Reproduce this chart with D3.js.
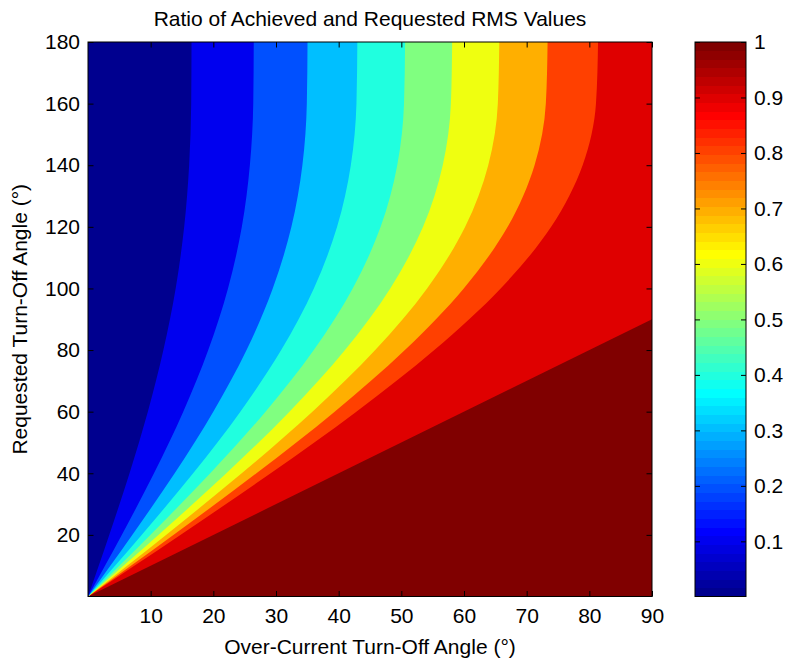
<!DOCTYPE html>
<html><head><meta charset="utf-8">
<script src="https://cdn.jsdelivr.net/npm/d3@7"></script>
<style>
body{margin:0;background:#fff}
text{font-family:"Liberation Sans",Arial,Helvetica,sans-serif;fill:#000}
</style></head>
<body><svg id="c" width="787" height="663"></svg>
<script>
// ---- data (x-position of each contour at the listed requested angles) ----
const yRows      = [0, 10,   20,    40,    60,    80,    100,   120,   140,   160,   180];
const contour01  = [0, 1.71, 3.39,  6.63,  9.55, 12.03, 13.99, 15.35, 16.14, 16.47, 16.52];
const contour02  = [0, 2.71, 5.39, 10.53, 15.20, 19.19, 22.34, 24.55, 25.83, 26.37, 26.45];
const contour03  = [0, 3.56, 7.06, 13.83, 19.99, 25.30, 29.48, 32.46, 34.21, 34.92, 35.03];
const contour04  = [0, 4.31, 8.56, 16.78, 24.31, 30.83, 36.04, 39.75, 41.94, 42.84, 42.98];
const contour05  = [0, 5.00, 9.94, 19.51, 28.33, 36.03, 42.24, 46.70, 49.35, 50.43, 50.60];
const contour06  = [0, 5.64, 11.23, 22.08, 32.15, 41.01, 48.23, 53.47, 56.61, 57.91, 58.11];
const contour07  = [0, 6.25, 12.45, 24.53, 35.81, 45.83, 54.11, 60.19, 63.87, 65.40, 65.63];
const contour08  = [0, 6.84, 13.62, 26.88, 39.36, 50.57, 59.96, 66.97, 71.26, 73.06, 73.34];
const contour09  = [0, 7.39, 14.74, 29.15, 42.82, 55.26, 65.85, 73.91, 78.93, 81.06, 81.39];
const levels     = [0.1, 0.2, 0.3, 0.4, 0.5, 0.6, 0.7, 0.8, 0.9];
// level 1.0 boundary (full-RMS region lies below it)
const unityX     = [0, 90, 90];
const unityY     = [0, 90, 180];
const dataMin    = 0.0006, dataMax = 1;

const xTicks = [10, 20, 30, 40, 50, 60, 70, 80, 90];
const yTicks = [20, 40, 60, 80, 100, 120, 140, 160, 180];
const cTicks = [0.1, 0.2, 0.3, 0.4, 0.5, 0.6, 0.7, 0.8, 0.9, 1];
const titleText = "Ratio of Achieved and Requested RMS Values";
const xLabelText = "Over-Current Turn-Off Angle (°)";
const yLabelText = "Requested Turn-Off Angle (°)";

const contours = [contour01, contour02, contour03, contour04, contour05, contour06, contour07, contour08, contour09];

// ---- jet(64) colormap ----
function jet(k){
  const u = j => (j < 1 || j > 47) ? 0 : (j <= 16 ? j/16 : (j <= 31 ? 1 : (48 - j)/16));
  return d3.rgb(Math.round(u(k-24)*255), Math.round(u(k-8)*255), Math.round(u(k+8)*255));
}
const nMap = 64;
const idxOf = v => Math.min(nMap, Math.max(1, Math.floor((v - dataMin)/(dataMax - dataMin)*nMap) + 1));

const svg = d3.select("#c");
const L = 88, R = 652, T = 42, B = 596.5;
const x = d3.scaleLinear().domain([0, 90]).range([L, R]);
const y = d3.scaleLinear().domain([0, 180]).range([B, T]);

svg.append("defs").append("clipPath").attr("id","clip")
  .append("rect").attr("x",L).attr("y",T).attr("width",R-L).attr("height",B-T);

const plot = svg.append("g").attr("clip-path","url(#clip)");
// region at value 1
plot.append("rect").attr("x",L).attr("y",T).attr("width",R-L).attr("height",B-T)
  .attr("fill", jet(idxOf(1)));

const corner = `L${x(0)},${y(180)}L${x(0)},${y(0)}Z`;
const lin = d3.line().x(d => x(d[0])).y(d => y(d[1]));
const smooth = d3.line().x(d => x(d[0])).y(d => y(d[1])).curve(d3.curveMonotoneY);

// region left of the 1.0 boundary gets the 0.9 band colour
plot.append("path")
  .attr("d", lin(unityX.map((v,i) => [v, unityY[i]])) + corner)
  .attr("fill", jet(idxOf(0.9)));

for (let k = contours.length - 1; k >= 0; k--) {
  const pts = contours[k].map((v,i) => [v, yRows[i]]);
  const col = k === 0 ? jet(1) : jet(idxOf(levels[k-1]));
  plot.append("path").attr("d", smooth(pts) + corner).attr("fill", col);
}

// frame
svg.append("rect").attr("x",L).attr("y",T).attr("width",R-L).attr("height",B-T)
  .attr("fill","none").attr("stroke","#000").attr("stroke-width",1);

const FS = 21;
function styleAxis(g){
  g.select(".domain").remove();
  g.selectAll(".tick line").attr("stroke","#000");
  g.selectAll(".tick text").attr("font-size",FS).attr("font-family",'"Liberation Sans",Arial,sans-serif').attr("fill","#000");
}
svg.append("g").attr("transform",`translate(0,${B})`)
  .call(d3.axisBottom(x).tickValues(xTicks).tickSizeInner(-5.5).tickSizeOuter(0).tickPadding(12).tickFormat(d3.format("d")))
  .call(styleAxis);
svg.append("g").attr("transform",`translate(0,${T})`)
  .call(d3.axisTop(x).tickValues(xTicks).tickSizeInner(-5.5).tickSizeOuter(0).tickFormat(""))
  .call(styleAxis);
svg.append("g").attr("transform",`translate(${L},0)`)
  .call(d3.axisLeft(y).tickValues(yTicks).tickSizeInner(-5.5).tickSizeOuter(0).tickPadding(8).tickFormat(d3.format("d")))
  .call(styleAxis);
svg.append("g").attr("transform",`translate(${R},0)`)
  .call(d3.axisRight(y).tickValues(yTicks).tickSizeInner(-5.5).tickSizeOuter(0).tickFormat(""))
  .call(styleAxis);

// titles
svg.append("text").attr("x",(L+R)/2).attr("y",26).attr("text-anchor","middle").attr("font-size",FS).text(titleText);
svg.append("text").attr("x",(L+R)/2).attr("y",654).attr("text-anchor","middle").attr("font-size",FS).text(xLabelText);
svg.append("text").attr("transform",`translate(27,${(T+B)/2}) rotate(-90)`).attr("text-anchor","middle").attr("font-size",FS).text(yLabelText);

// colorbar
const CL = 695, CR = 746;
const c = d3.scaleLinear().domain([dataMin, dataMax]).range([B, T]);
const cb = svg.append("g");
const step = (dataMax - dataMin)/nMap;
d3.range(1, nMap+1).forEach(k => {
  const v0 = dataMin + (k-1)*step, v1 = dataMin + k*step;
  cb.append("rect").attr("x",CL).attr("width",CR-CL)
    .attr("y", c(v1)).attr("height", c(v0) - c(v1) + 0.5)
    .attr("fill", jet(k)).attr("shape-rendering","crispEdges");
});
cb.append("rect").attr("x",CL).attr("y",T).attr("width",CR-CL).attr("height",B-T)
  .attr("fill","none").attr("stroke","#000").attr("stroke-width",1);
svg.append("g").attr("transform",`translate(${CR},0)`)
  .call(d3.axisRight(c).tickValues(cTicks).tickSizeInner(-5).tickSizeOuter(0).tickPadding(8).tickFormat(d => String(+d.toFixed(1))))
  .call(styleAxis);
svg.append("g").attr("transform",`translate(${CL},0)`)
  .call(d3.axisLeft(c).tickValues(cTicks).tickSizeInner(-5).tickSizeOuter(0).tickFormat(""))
  .call(styleAxis);
</script></body></html>
